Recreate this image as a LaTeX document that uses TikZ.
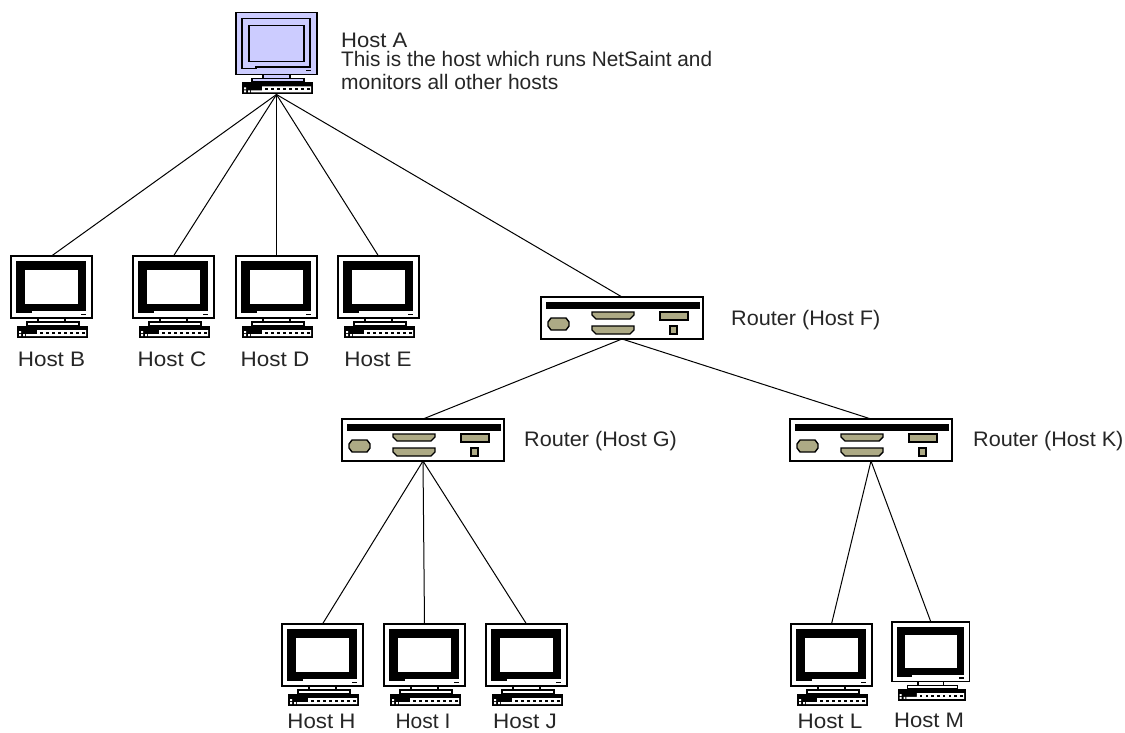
\documentclass[tikz,border=0pt]{standalone}
\usepackage{fontspec}
\setmainfont{Liberation Sans}
\definecolor{hostblue}{RGB}{204,204,255}
\definecolor{portkhaki}{RGB}{173,170,133}
\tikzset{
  x=1pt,y=-1pt,
  link/.style={draw=black,line width=1pt},
  devbox/.style={draw=none,inner sep=0pt,outer sep=0pt,anchor=north west},
  lbl/.style={font=\fontsize{21}{21}\selectfont,text=black!85,inner sep=0pt,anchor=base},
  lblw/.style={lbl,anchor=base west},
  port/.style={fill=portkhaki,draw=black,line width=1.4pt},
}
% \pcdev{name}{x}{y}{scale}{body colour}{frame colour}
\newcommand{\pcdev}[6]{%
  \node[devbox,minimum width=#4*81pt,minimum height=#4*82pt] (#1) at (#2,#3) {};
  \begin{scope}[shift={(#2,#3)},x=#4*1pt,y=-#4*1pt]
    \fill[#5,draw=black,line width=1.4pt] (0,0) rectangle (81,62);
    \filldraw[fill=#6,draw=black,line width=1.5pt,even odd rule]
      (6,6) -- (74,6) -- (74,54.5) -- (20,54.5) -- (20,56) -- (6,56) -- cycle
      (13,13) rectangle (68,49);
    \fill[#5] (13,13) rectangle (68,49);
    \draw[black,line width=1.5pt] (13,13) rectangle (68,49);
    \fill[black] (70,57.5) rectangle (75,59);
    \fill[#5,draw=black,line width=1.2pt] (27,62) rectangle (54,66);
    \fill[#5,draw=black,line width=1.2pt] (16,66) rectangle (68,69.5);
    \fill[black] (6,69.5) rectangle (77,82);
    \fill[white] (8,75) rectangle (10,77) (8,78) rectangle (10,80) (12,78) rectangle (14,80);
    \fill[white] (26,74) rectangle (75,80) (15,78) rectangle (26,80);
    \fill[black] (16,76) rectangle (25,77.5);
    \foreach \k in {29,35,...,71} {\fill[black] (\k,76) rectangle +(2.5,2);}
  \end{scope}}
% \routerdev{name}{x}{y}
\newcommand{\routerdev}[3]{%
  \node[devbox,minimum width=162pt,minimum height=42pt] (#1) at (#2,#3) {};
  \begin{scope}[shift={(#2,#3)}]
    \fill[white,draw=black,line width=1.2pt] (0,0) rectangle (162,42);
    \fill[black] (5,5) rectangle (159,12);
    \fill[port] (10,21) -- (25,21) -- (28,25) -- (28,29) -- (25,33) -- (10,33) -- (7,29) -- (7,25) -- cycle;
    \fill[port] (51,15) -- (93,15) -- (93,18) -- (89,22) -- (55,22) -- (51,18) -- cycle;
    \fill[port] (51,29) -- (93,29) -- (93,33) -- (89,37) -- (55,37) -- (51,33) -- cycle;
    \fill[port] (119,15) rectangle (147,23);
    \fill[port] (129,29) rectangle (136,37);
  \end{scope}}
\begin{document}
\begin{tikzpicture}
\useasboundingbox (0,0) rectangle (1125,733);
\fill[white] (0,0) rectangle (1125,733);
\pcdev{hostA}{236}{12.5}{1}{hostblue}{hostblue}
\pcdev{hostB}{11}{256}{1}{white}{black}
\pcdev{hostC}{133}{256}{1}{white}{black}
\pcdev{hostD}{236}{256}{1}{white}{black}
\pcdev{hostE}{338}{256}{1}{white}{black}
\pcdev{hostH}{282}{624}{1}{white}{black}
\pcdev{hostI}{384}{624}{1}{white}{black}
\pcdev{hostJ}{486}{624}{1}{white}{black}
\pcdev{hostL}{791}{624}{1}{white}{black}
\pcdev{hostM}{892}{622}{.96}{white}{black}
\routerdev{routerF}{541}{297}
\routerdev{routerG}{342}{419}
\routerdev{routerK}{790}{419}
\draw[link] (hostA.south) -- (hostB.north);
\draw[link] (hostA.south) -- (hostC.north);
\draw[link] (hostA.south) -- (hostD.north);
\draw[link] (hostA.south) -- (hostE.north);
\draw[link] (hostA.south) -- (routerF.north);
\draw[link] (routerF.south) -- (routerG.north);
\draw[link] (routerF.south) -- (routerK.north);
\draw[link] (routerG.south) -- (hostH.north);
\draw[link] (routerG.south) -- (hostI.north);
\draw[link] (routerG.south) -- (hostJ.north);
\draw[link] (routerK.south) -- (hostL.north);
\draw[link] (routerK.south) -- (hostM.north);
\node[lblw,xscale=1.05] (la) at (341,48) {Host A};
\node[lblw,xscale=.99] (la2) at (341,67) {This is the host which runs NetSaint and};
\node[lblw] (la3) at (341,90) {monitors all other hosts};
\node[lbl,xscale=1.07] (lb) at (51.5,366) {Host B};
\node[lbl,xscale=1.07] (lc) at (172,366) {Host C};
\node[lbl,xscale=1.07] (ld) at (275,366) {Host D};
\node[lbl,xscale=1.07] (le) at (378,366) {Host E};
\node[lbl,xscale=1.06] (lh) at (321.5,728.5) {Host H};
\node[lbl] (li) at (423,728.5) {Host I};
\node[lbl,xscale=1.07] (lj) at (525,728.5) {Host J};
\node[lbl,xscale=1.07] (ll) at (830,728.5) {Host L};
\node[lbl,xscale=1.05] (lm) at (929,727) {Host M};
\node[lblw,xscale=1.03] (lf) at (731,325) {Router (Host F)};
\node[lblw,xscale=1.03] (lg) at (524,446) {Router (Host G)};
\node[lblw,xscale=1.03] (lk) at (973,446) {Router (Host K)};
\end{tikzpicture}
\end{document}
